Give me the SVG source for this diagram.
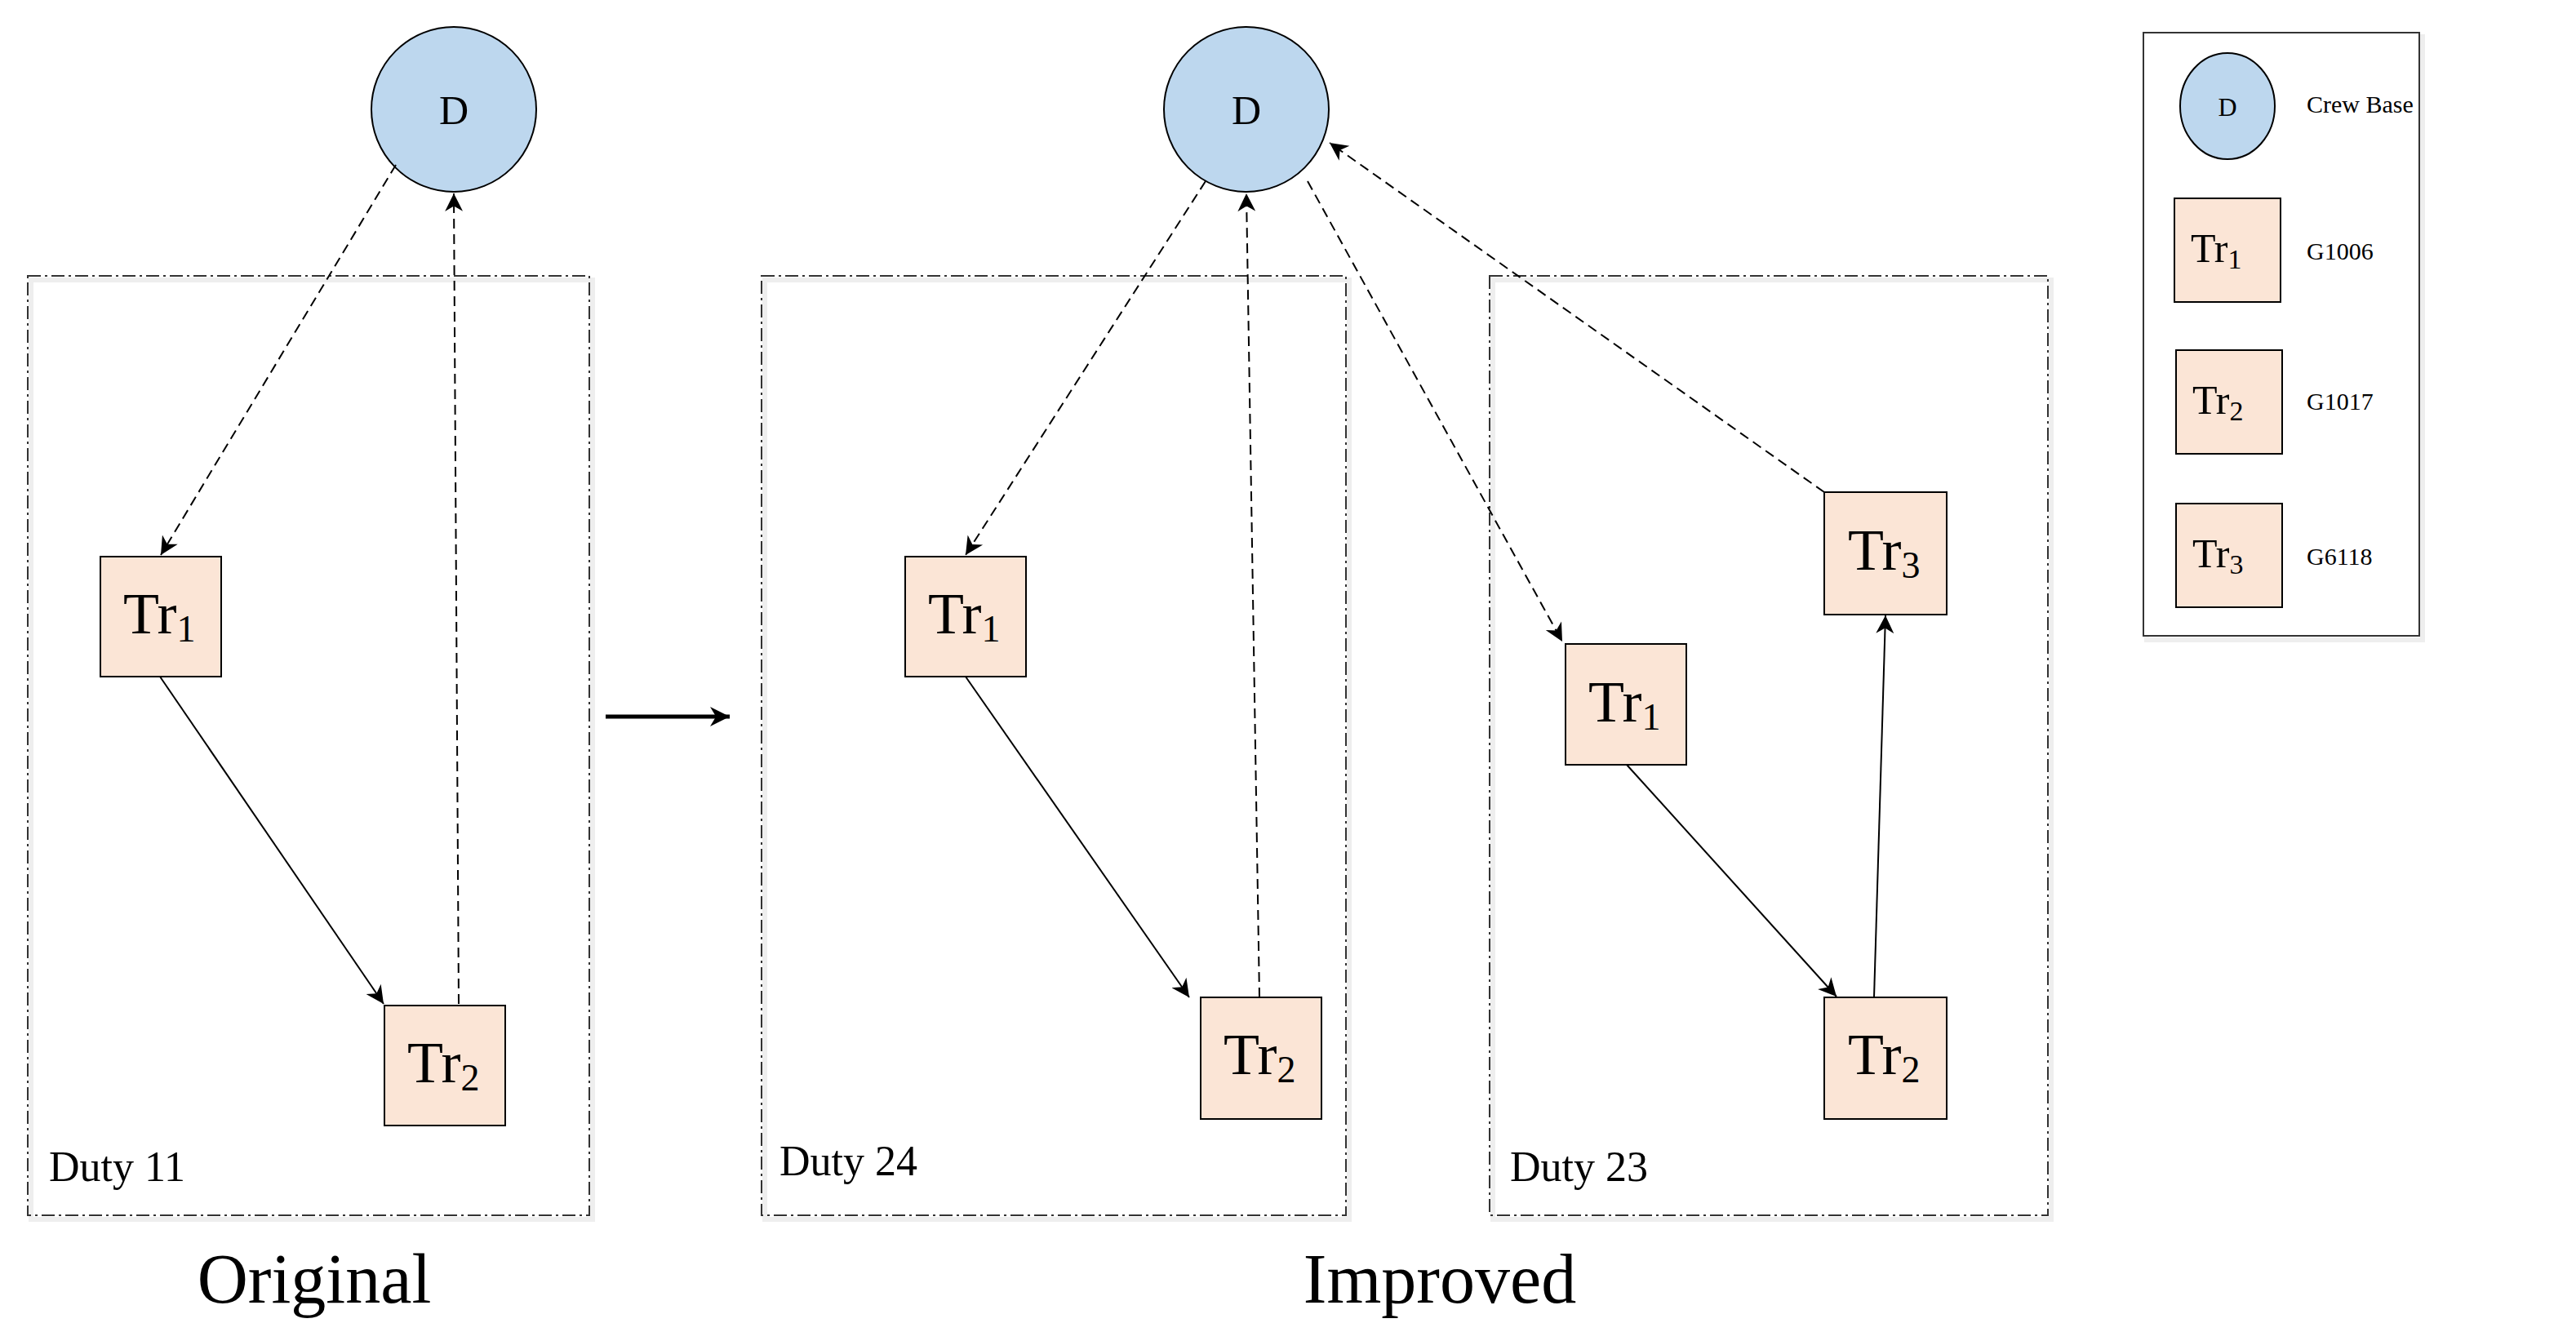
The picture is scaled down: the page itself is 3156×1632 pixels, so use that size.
<svg xmlns="http://www.w3.org/2000/svg" width="3156" height="1632" viewBox="0 0 3156 1632">
<style>
text{font-family:"Liberation Serif","Times New Roman",serif;fill:#000}
.duty{fill:none;stroke:#333;stroke-width:2;stroke-dasharray:16,5,3,5}
.shadow{fill:none;stroke:#eee;stroke-width:6}
.base{fill:#bdd7ee;stroke:#000;stroke-width:2}
.tr{fill:#fbe5d6;stroke:#000;stroke-width:2}
.trt{font-size:72px}
.sub{font-size:46px}
.lbl{font-size:52px}
.big{font-size:86px}
.leg{font-size:30px}
.dash{stroke:#000;stroke-width:2;stroke-dasharray:12,7;fill:none;marker-end:url(#ah)}
.solid{stroke:#000;stroke-width:2;fill:none;marker-end:url(#ah)}
</style>
<defs>
<marker id="ah" viewBox="0 0 10 10" refX="10" refY="5" markerWidth="26" markerHeight="22" markerUnits="userSpaceOnUse" orient="auto"><path d="M0,0 L10,5 L0,10 L3,5 Z" fill="#000"/></marker>
<marker id="ah2" viewBox="0 0 10 10" refX="10" refY="5" markerWidth="26" markerHeight="24" markerUnits="userSpaceOnUse" orient="auto"><path d="M0,0 L10,5 L0,10 L3,5 Z" fill="#000"/></marker>
</defs>
<rect width="3156" height="1632" fill="#fff"/>
<g id="duty11"><rect class="shadow" x="38" y="343" width="688" height="1151"/><rect class="duty" x="34" y="338" width="688" height="1151"/><text class="lbl" x="60" y="1447">Duty 11</text></g>
<g id="duty24"><rect class="shadow" x="937" y="343" width="716" height="1151"/><rect class="duty" x="933" y="338" width="716" height="1151"/><text class="lbl" x="955" y="1440">Duty 24</text></g>
<g id="duty23"><rect class="shadow" x="1829" y="343" width="684" height="1151"/><rect class="duty" x="1825" y="338" width="684" height="1151"/><text class="lbl" x="1850" y="1447">Duty 23</text></g>
<g id="D1"><circle class="base" cx="556" cy="134" r="101"/><text x="556" y="152" text-anchor="middle" style="font-size:50px">D</text></g>
<g id="D2"><circle class="base" cx="1527" cy="134" r="101"/><text x="1527" y="152" text-anchor="middle" style="font-size:50px">D</text></g>
<g id="o_tr1"><rect class="tr" x="123" y="682" width="148" height="147"/><text class="trt" x="151" y="776">Tr<tspan class="sub" dy="10">1</tspan></text></g>
<g id="o_tr2"><rect class="tr" x="471" y="1232" width="148" height="147"/><text class="trt" x="499" y="1326">Tr<tspan class="sub" dy="10">2</tspan></text></g>
<g id="a_tr1"><rect class="tr" x="1109" y="682" width="148" height="147"/><text class="trt" x="1137" y="776">Tr<tspan class="sub" dy="10">1</tspan></text></g>
<g id="a_tr2"><rect class="tr" x="1471" y="1222" width="148" height="149"/><text class="trt" x="1499" y="1316">Tr<tspan class="sub" dy="10">2</tspan></text></g>
<g id="b_tr1"><rect class="tr" x="1918" y="789" width="148" height="148"/><text class="trt" x="1946" y="884">Tr<tspan class="sub" dy="10">1</tspan></text></g>
<g id="b_tr2"><rect class="tr" x="2235" y="1222" width="150" height="149"/><text class="trt" x="2264" y="1316">Tr<tspan class="sub" dy="10">2</tspan></text></g>
<g id="b_tr3"><rect class="tr" x="2235" y="603" width="150" height="150"/><text class="trt" x="2264" y="698">Tr<tspan class="sub" dy="10">3</tspan></text></g>
<g id="connectors">
<line class="dash" x1="485" y1="202" x2="197" y2="680"/>
<line class="dash" x1="562" y1="1230" x2="556" y2="237"/>
<line class="solid" x1="196" y1="829" x2="470" y2="1230"/>
<line class="dash" x1="1477" y1="222" x2="1183" y2="680"/>
<line class="dash" x1="1543" y1="1222" x2="1527" y2="237"/>
<line class="solid" x1="1183" y1="829" x2="1457" y2="1222"/>
<line class="dash" x1="1602" y1="222" x2="1914" y2="786"/>
<line class="dash" x1="2235" y1="603" x2="1629" y2="175"/>
<line class="solid" x1="1993" y1="937" x2="2250" y2="1221"/>
<line class="solid" x1="2296" y1="1222" x2="2310" y2="754"/>
<line stroke="#000" stroke-width="5" x1="742" y1="878" x2="894" y2="878" marker-end="url(#ah2)"/>
</g>
<text class="big" x="385" y="1596" text-anchor="middle">Original</text>
<text class="big" x="1764" y="1596" text-anchor="middle">Improved</text>
<g id="legend">
<rect x="2630" y="45" width="338" height="739" fill="none" stroke="#eee" stroke-width="6"/>
<rect x="2626" y="40" width="338" height="739" fill="#fff" stroke="#333" stroke-width="2"/>
<ellipse class="base" cx="2729" cy="130" rx="58" ry="65"/><text x="2729" y="142" text-anchor="middle" style="font-size:32px">D</text>
<text class="leg" x="2826" y="138">Crew Base</text>
<rect class="tr" x="2664" y="243" width="130" height="127"/><text x="2684" y="321" style="font-size:50px">Tr<tspan style="font-size:34px" dy="8">1</tspan></text>
<text class="leg" x="2826" y="318">G1006</text>
<rect class="tr" x="2666" y="429" width="130" height="127"/><text x="2686" y="507" style="font-size:50px">Tr<tspan style="font-size:34px" dy="8">2</tspan></text>
<text class="leg" x="2826" y="502">G1017</text>
<rect class="tr" x="2666" y="617" width="130" height="127"/><text x="2686" y="695" style="font-size:50px">Tr<tspan style="font-size:34px" dy="8">3</tspan></text>
<text class="leg" x="2826" y="692">G6118</text>
</g>
</svg>
